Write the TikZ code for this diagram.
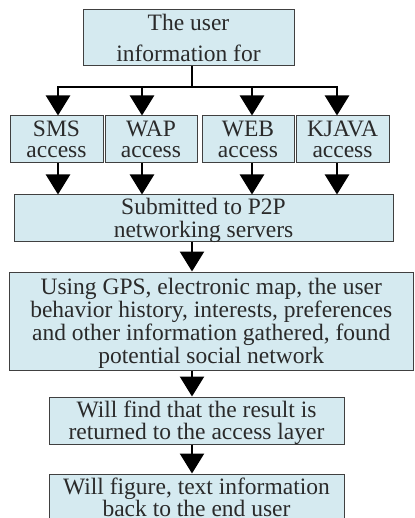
\documentclass[tikz,border=0pt]{standalone}
\usepackage{fontspec}
\setmainfont{Liberation Serif}
\usetikzlibrary{arrows.meta}
\definecolor{boxfill}{HTML}{D5EAF0}
\definecolor{boxline}{HTML}{404040}
\definecolor{txt}{HTML}{2A2A2A}
% centred lines of a box, set a little below the middle
\newcommand\boxlines[1]{\raisebox{-3pt}[\height][\depth]{\begin{tabular}{@{}c@{}}#1\end{tabular}}}
\begin{document}
\begin{tikzpicture}[x=1pt,y=-1pt,
  flowbox/.style={draw=boxline,line width=1pt,fill=boxfill,inner sep=0pt,
    text=txt,font=\fontsize{23.5}{21.5}\selectfont},
  link/.style={line width=2.5pt,black},
  flow/.style={link,-{Triangle[width=24pt,length=20pt]}}]
\useasboundingbox (0,0) rectangle (414,518);

% boxes
\node[flowbox,minimum width=211pt,minimum height=56pt] (user) at (188.5,38)
  {\boxlines{The user\\[8.5pt]information for}};
\node[flowbox,minimum width=93pt,minimum height=47pt] (sms) at (56.5,139.5) {\boxlines{SMS\\access}};
\node[flowbox,minimum width=92pt,minimum height=47pt] (wap) at (151,139.5) {\boxlines{WAP\\access}};
\node[flowbox,minimum width=92pt,minimum height=47pt] (web) at (248,139.5) {\boxlines{WEB\\access}};
\node[flowbox,minimum width=93pt,minimum height=47pt] (kjava) at (342.5,139.5) {\boxlines{KJAVA\\access}};
\node[flowbox,minimum width=379pt,minimum height=46pt] (sub) at (203.5,218)
  {\boxlines{Submitted to P2P\\networking servers}};
\node[flowbox,minimum width=404.5pt,minimum height=98pt] (gps) at (211.25,321)
  {\boxlines{Using GPS, electronic map, the user\\behavior history, interests, preferences\\and other information gathered, found\\potential social network}};
\node[flowbox,minimum width=295pt,minimum height=47pt] (res) at (196.5,420.5)
  {\boxlines{Will find that the result is\\returned to the access layer}};
\node[flowbox,minimum width=295pt,minimum height=47pt] (back) at (196.5,497.5)
  {\boxlines{Will figure, text information\\back to the end user}};

% distribution bus below the first box
\coordinate (bus) at (192,87);
\coordinate (a1) at (58,87);
\coordinate (a2) at (142,87);
\coordinate (a3) at (252,87);
\coordinate (a4) at (337,87);

\draw[link] (bus |- user.south) -- (bus);
\draw[link,line cap=rect] (a1) -- (a4);
\draw[flow] (a1) -- (a1 |- sms.north);
\draw[flow] (a2) -- (a2 |- wap.north);
\draw[flow] (a3) -- (a3 |- web.north);
\draw[flow] (a4) -- (a4 |- kjava.north);

\draw[flow] (a1 |- sms.south) -- (a1 |- sub.north);
\draw[flow] (a2 |- wap.south) -- (a2 |- sub.north);
\draw[flow] (a3 |- web.south) -- (a3 |- sub.north);
\draw[flow] (a4 |- kjava.south) -- (a4 |- sub.north);

\draw[flow] (bus |- sub.south) -- (bus |- gps.north);
\draw[flow] (bus |- gps.south) -- (bus |- res.north);
\draw[flow] (bus |- res.south) -- (bus |- back.north);
\end{tikzpicture}
\end{document}
